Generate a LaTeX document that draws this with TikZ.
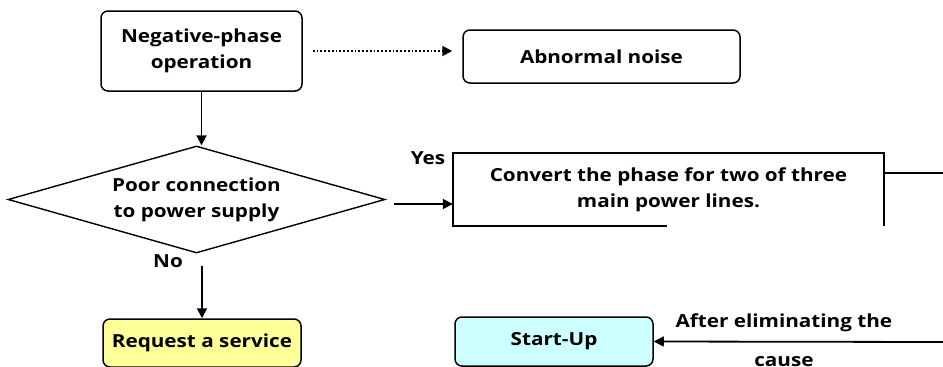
\documentclass[tikz,border=0pt]{standalone}
\usepackage{fontspec}
\setmainfont{Open Sans}[FakeStretch=1.15]
\usetikzlibrary{positioning,arrows.meta,shapes.geometric}
\definecolor{reqfill}{HTML}{FFFF99}
\definecolor{startfill}{HTML}{CCFFFF}

\begin{document}
\begin{tikzpicture}[x=1pt,y=-1pt,font=\bfseries\fontsize{18}{26}\selectfont,b/.style={draw,rounded corners=7pt,line width=1.5pt,align=center,inner sep=0pt},a/.style={-{Triangle[length=10pt,width=10pt]},line width=1.8pt},l/.style={inner sep=0pt}]
\useasboundingbox (0,0) rectangle (943,367);
\node[b,minimum width=201pt,minimum height=80pt](neg) at (201.5,51){Negative-phase\\operation};
\node[b,minimum width=277pt,minimum height=53pt](noise) at (601.5,56.5){Abnormal noise};
\node[diamond,draw,line width=1.4pt,aspect=3.5,minimum width=377pt,minimum height=107pt,inner sep=0pt,align=center](poor) at (196.5,199.5){Poor connection\\to power supply};
\node[minimum width=431pt,minimum height=73pt,inner sep=0pt,align=center](conv) at (668.5,189.5){Convert the phase for two of three\\main power lines.};
\node[b,fill=reqfill,minimum width=198pt,minimum height=48pt](req) at (202,343){Request a service};
\node[b,fill=startfill,minimum width=198pt,minimum height=49pt](start) at (554,341.5){Start-Up};
\node[l](yes) at (428,158){Yes};
\node[l](no) at (168,261){No};
\coordinate (out1) at (943,173);
\coordinate (in2) at (943,342);
% box around the conversion step
\draw[line width=1.5pt]([xshift=214pt]conv.south west)--(conv.south west)|-(conv.north east)--(conv.south east);
\draw[line width=1.5pt](conv.east|-out1)--(out1);
\draw[a](neg.south)--(neg.south|-poor.north);
\draw[a,dotted]([xshift=10pt]neg.east)--([xshift=-10pt]neg.east-|noise.west);
\draw[a]([xshift=8pt,yshift=-4.5pt]poor.east)--([yshift=-4.5pt]poor.east-|conv.west);
\draw[a]([yshift=-12pt]poor.south-|req.north)--(req.north);
\draw[a](in2)--node[above=6pt,pos=.55]{After eliminating the}node[below=11pt,pos=.55]{cause}(start.east);
\end{tikzpicture}
\end{document}
